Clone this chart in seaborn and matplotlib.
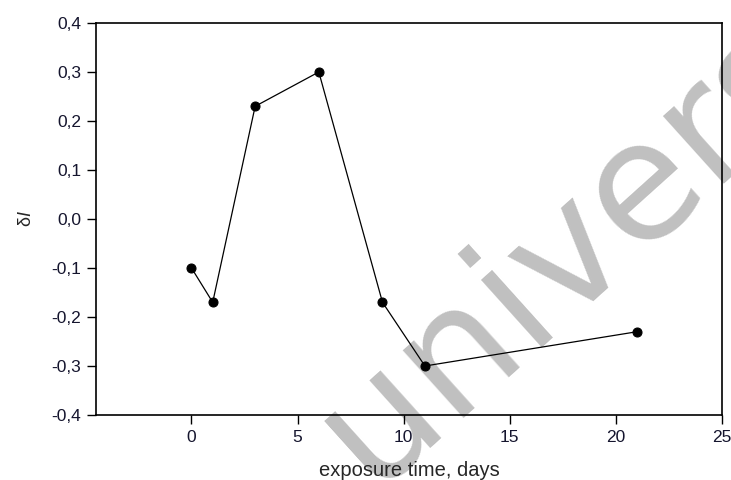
#!/usr/bin/env python3
"""
Plot delta I versus exposure time
"""
import matplotlib
matplotlib.use("Agg")
import matplotlib.pyplot as plt
import matplotlib.ticker as mticker
import pandas as pd
import seaborn as sns

exposure_days = [0, 1, 3, 6, 9, 11, 21]
delta_i = [-0.10, -0.17, 0.23, 0.30, -0.17, -0.30, -0.23]
x_ticks = [0, 5, 10, 15, 20, 25]
y_ticks = [-0.4, -0.3, -0.2, -0.1, 0.0, 0.1, 0.2, 0.3, 0.4]

sns.set_theme(style="ticks")
plt.rcParams["font.family"] = ["Liberation Sans", "DejaVu Sans"]
plt.rcParams["mathtext.fontset"] = "custom"
plt.rcParams["mathtext.it"] = "Liberation Sans:italic"
plt.rcParams["mathtext.rm"] = "Liberation Sans"

df = pd.DataFrame({"days": exposure_days, "delta": delta_i})

fig = plt.figure(figsize=(7.31, 4.8), dpi=100)
ax = fig.add_axes([96 / 731, 1 - 415 / 480, 626 / 731, 392 / 480])
ax.set_zorder(1)
ax.patch.set_visible(False)

sns.lineplot(
    data=df, x="days", y="delta", ax=ax,
    color="black", linewidth=0.9,
    marker="o", markersize=6.5, markeredgecolor="black",
    markerfacecolor="black", zorder=3
)

ax.set_xlim(-4.5, 25)
ax.set_ylim(-0.4, 0.4)
ax.set_xticks(x_ticks)
ax.set_yticks(y_ticks)
ax.yaxis.set_major_formatter(
    mticker.FuncFormatter(lambda v, p: f"{v:.1f}".replace(".", ",").replace("-0,0", "0,0"))
)
ax.tick_params(direction="out", length=6.5, width=1, labelsize=12.5,
               colors="black", labelcolor="#15152e", pad=4,
               top=False, right=False)
for s in ax.spines.values():
    s.set_linewidth(1.2)
    s.set_color("black")

ax.set_xlabel("exposure time, days", fontsize=14.5, labelpad=12)
ax.set_ylabel(r"δ$\mathit{I}$", fontsize=13, labelpad=12)

# watermark
fig.text(372 / 731, 1 - 489 / 480, "univers", fontsize=119, color="#c0c0c0",
         family="DejaVu Sans", rotation=42, rotation_mode="anchor",
         ha="left", va="baseline", zorder=0)

fig.savefig("out.png", dpi=100)
